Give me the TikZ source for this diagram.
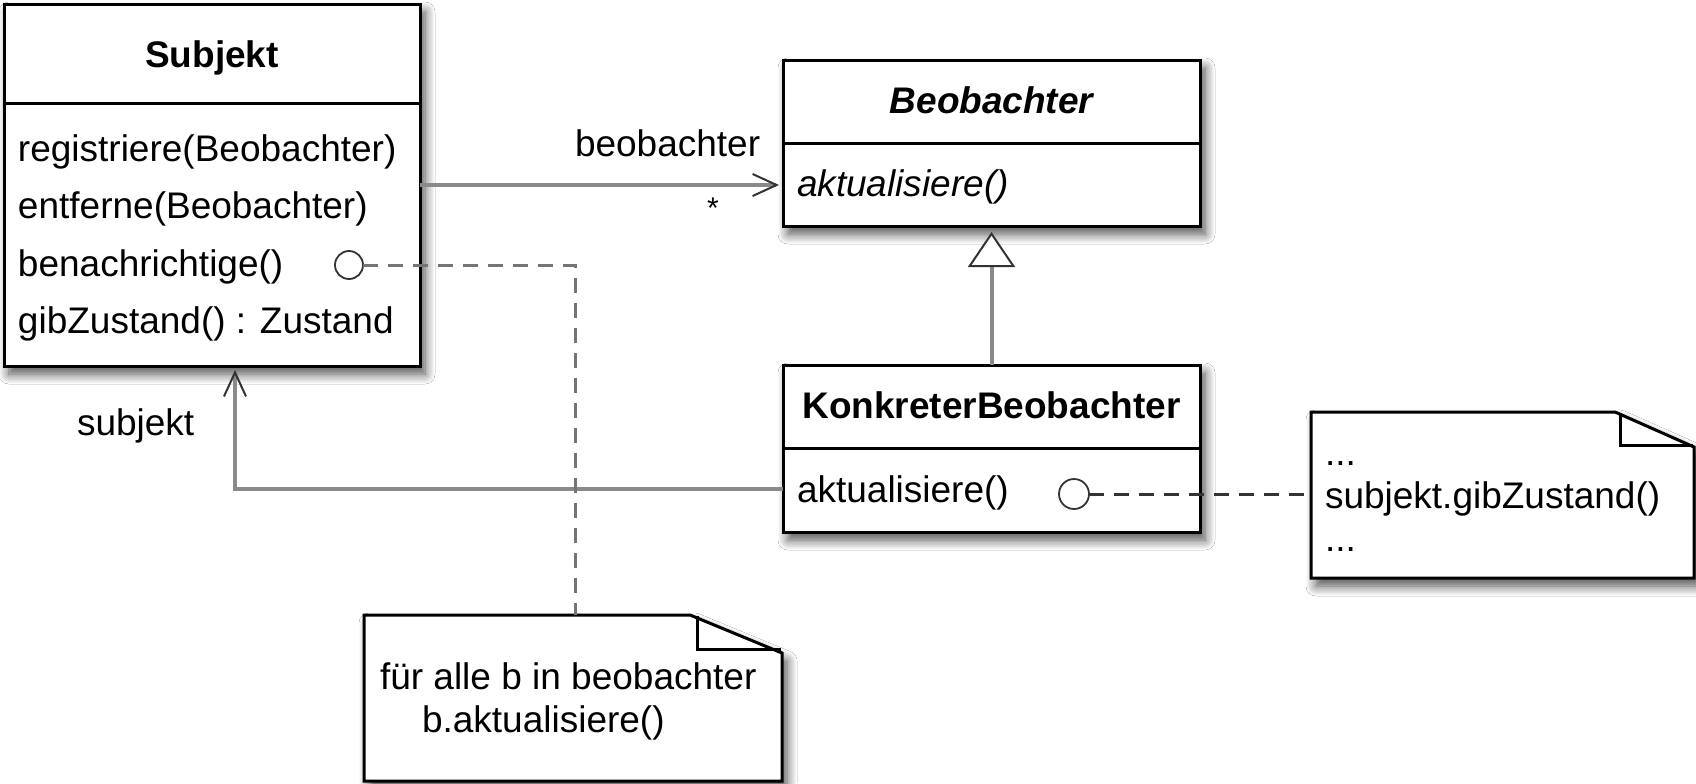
\documentclass[tikz,border=0pt]{standalone}
\usepackage{fontspec}
\setmainfont{Liberation Sans}
\usetikzlibrary{arrows.meta,shadows.blur,calc}
\definecolor{lg}{HTML}{8A8A8A}
\definecolor{dg}{HTML}{333333}
\begin{document}
\begin{tikzpicture}[x=0.5pt,y=-0.5pt,
  every node/.style={inner sep=0pt, outer sep=0pt},
  txt/.style={font=\fontsize{18.5}{22}\selectfont, anchor=base west},
  ttl/.style={font=\fontsize{18.5}{22}\selectfont\bfseries, anchor=base},
  shad/.style={blur shadow={shadow xshift=2.5pt, shadow yshift=-4pt, shadow blur steps=10, shadow blur radius=5pt, shadow opacity=70}},
  umlbox/.style={draw=black, line width=1.5pt, fill=white, rectangle, shad},
  notebox/.style={draw=black, line width=1.5pt, fill=white, shad},
  conn/.style={draw=lg, line width=2pt},
  dashline/.style={line width=1.5pt, dash pattern=on 7.5pt off 5pt},
  circ/.style={circle, draw=dg, line width=0.9pt, fill=white},
  openbarb/.style={-{Straight Barb[length=12pt, width=11pt, line width=1pt, color=dg]}}
]
\fill[white] (0,0) rectangle (1696,783);
\useasboundingbox (0,0) rectangle (1696,783);

% Subjekt
\node[umlbox, minimum width=208pt, minimum height=181pt] (subj) at (212,185) {};
\draw[line width=1.5pt] (subj.west |- 0,103) -- (subj.east |- 0,103);
\node[ttl] (subjT) at (212,67) {Subjekt};
\node[txt] (sm1) at (18,161) {registriere(Beobachter)};
\node[txt] (sm2) at (18,218) {entferne(Beobachter)};
\node[txt] (sm3) at (18,276) {benachrichtige()};
\node[txt] (sm4) at (18,333) {gibZustand() : Zustand};

% Beobachter
\node[umlbox, minimum width=208.5pt, minimum height=83pt] (beob) at (991.5,143) {};
\draw[line width=1.5pt] (beob.west) -- (beob.east);
\node[ttl, font=\fontsize{18.5}{22}\selectfont\bfseries\itshape] (beobT) at (991.5,113) {Beobachter};
\node[txt, font=\fontsize{18.5}{22}\selectfont\itshape] (bm1) at (797,196) {aktualisiere()};

% KonkreterBeobachter
\node[umlbox, minimum width=208.5pt, minimum height=83.5pt] (kb) at (991.5,448.5) {};
\draw[line width=1.5pt] (kb.west) -- (kb.east);
\node[ttl] (kbT) at (991.5,418) {KonkreterBeobachter};
\node[txt] (km1) at (797,502) {aktualisiere()};

% Note right
\path[notebox] (1311,412) -- (1615,412) -- (1694,447) -- (1694,578) -- (1311,578) -- cycle;
\draw[line width=1.5pt] (1620,413) -- (1620,445) -- (1693,445);
\coordinate (n1w) at (1311,494);
\node[txt] (n1a) at (1325,465) {...};
\node[txt] (n1b) at (1325,508) {subjekt.gibZustand()};
\node[txt] (n1c) at (1325,551) {...};

% Note bottom
\path[notebox] (364,615) -- (690,615) -- (782,653) -- (782,781) -- (364,781) -- cycle;
\draw[line width=1.5pt] (697,616) -- (697,649) -- (781,649);
\coordinate (n2t) at (575,615);
\node[txt] (n2a) at (380,689) {für alle b in beobachter};
\node[txt] (n2b) at (422,732) {b.aktualisiere()};

% association Subjekt -> Beobachter
\draw[conn, openbarb, shorten >=2pt] (subj.east) -- (beob.west |- subj.east);
\node[txt] (lbeob) at (575,156) {beobachter};
\node[anchor=base, font=\fontsize{15}{18}\selectfont] (lstar) at (713,218) {*};

% association KonkreterBeobachter -> Subjekt
\coordinate (bend) at (235,489);
\draw[conn, openbarb, shorten >=2pt] (kb.west |- bend) -| (subj.south -| bend);
\node[txt] (lsubj) at (77,435) {subjekt};

% generalization
\draw[conn, -{Triangle[open, length=17.5pt, width=23.5pt, line width=1pt, fill=white, color=dg]}, shorten >=3pt] (kb.north) -- (beob.south);

% note links
\node[circ, minimum size=14pt] (c1) at (349,265) {};
\draw[dashline, draw=lg!85!black] (c1.east) -| (n2t);
\node[circ, minimum size=15pt] (c2) at (1074,494) {};
\draw[dashline, draw=dg] (c2.east) -- (n1w);
\end{tikzpicture}
\end{document}
